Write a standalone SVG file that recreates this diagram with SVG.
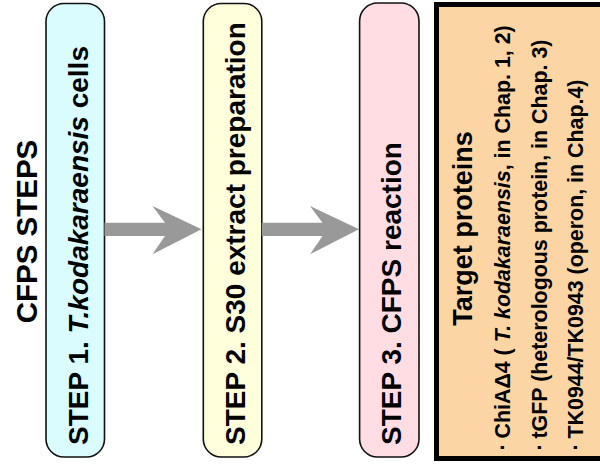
<svg xmlns="http://www.w3.org/2000/svg" width="600" height="465" viewBox="0 0 600 465">
<style>
text{font-family:"Liberation Sans",Arial,Helvetica,sans-serif;font-weight:bold;fill:#000}
.step{stroke:#111;stroke-width:1.6}
.arrow{fill:#999999;stroke:none}
.it{font-style:italic}
.st{font-size:28px}
.li{font-size:21.4px}
</style>
<rect width="600" height="465" fill="#ffffff"/>
<g id="title">
<text transform="translate(37,231.5) rotate(-90)" text-anchor="middle" font-size="29.5">CFPS STEPS</text>
</g>
<g id="step1">
<rect class="step" x="46" y="3.5" width="58.5" height="453.5" rx="18" fill="#dbfcff"/>
<text class="st" transform="translate(88,445) rotate(-90)">STEP 1.  <tspan class="it">T.kodakaraensis</tspan> cells</text>
</g>
<g id="step2">
<rect class="step" x="203.3" y="3.5" width="58.5" height="453.5" rx="18" fill="#ffffdc"/>
<text class="st" transform="translate(245,445) rotate(-90)">STEP 2. S30 extract preparation</text>
</g>
<g id="step3">
<rect class="step" x="359.6" y="3" width="59.4" height="454" rx="18" fill="#ffdde3"/>
<text class="st" transform="translate(400.7,445) rotate(-90)">STEP 3. CFPS reaction</text>
</g>
<g id="connectors">
<polygon class="arrow" points="104.5,222.7 165,222.7 152.5,206 201.5,229.3 152.5,254.3 165,236 104.5,236"/>
<polygon class="arrow" points="261.8,222.7 322.5,222.7 310,206 359,229.3 310,254.3 322.5,236 261.8,236"/>
</g>
<g id="targets">
<rect x="436.5" y="4.5" width="200" height="454" fill="#fcd5a4" stroke="#000" stroke-width="5"/>
<text transform="translate(472,228.5) rotate(-90)" text-anchor="middle" font-size="27">Target proteins</text>
<text class="li" transform="translate(509.5,450.5) rotate(-90)">·</text>
<text class="li" transform="translate(509.5,438.5) rotate(-90)">ChiAΔ4 ( <tspan class="it">T. kodakaraensis</tspan>, in Chap. 1, 2)</text>
<text class="li" transform="translate(546.5,450.5) rotate(-90)">·</text>
<text class="li" transform="translate(546.5,438.5) rotate(-90)">tGFP (heterologous protein, in Chap. 3)</text>
<text class="li" transform="translate(583,450.5) rotate(-90)">·</text>
<text class="li" transform="translate(583,438.5) rotate(-90)">TK0944/TK0943 (operon, in Chap.4)</text>
</g>
</svg>
